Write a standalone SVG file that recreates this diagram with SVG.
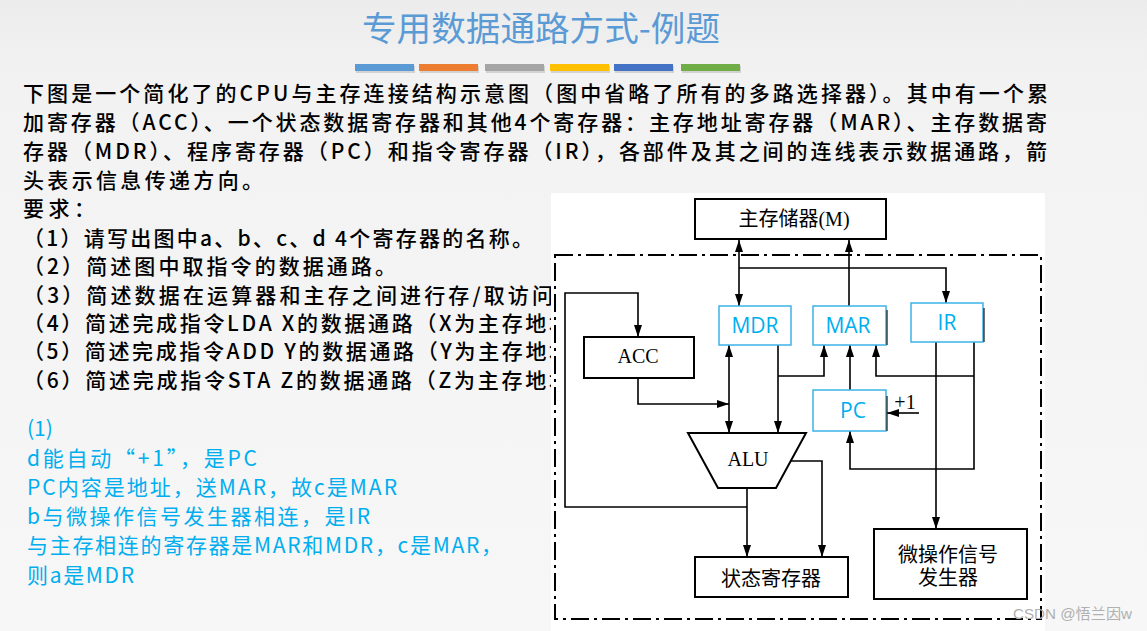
<svg xmlns="http://www.w3.org/2000/svg" width="1147" height="631" viewBox="0 0 1147 631">
<defs>
<linearGradient id="bg" x1="0" y1="0" x2="0" y2="1">
<stop offset="0" stop-color="#ECECEC"/><stop offset="0.12" stop-color="#F2F2F2"/><stop offset="1" stop-color="#F7F7F7"/>
</linearGradient>
<marker id="ah" viewBox="0 0 12 8" refX="12" refY="4" markerWidth="12" markerHeight="8" markerUnits="userSpaceOnUse" orient="auto-start-reverse">
<path d="M0,0 L12,4 L0,8 Z" fill="#000"/>
</marker>
<clipPath id="clipL"><rect x="0" y="0" width="551" height="631"/></clipPath>
</defs>
<style>
.t{font-family:"Noto Sans CJK SC","Liberation Sans",sans-serif;font-size:21px;font-weight:500;fill:#000}
.a{font-family:"Noto Sans CJK SC","Open Sans",sans-serif;font-size:21px;fill:#00AEEF}
.s{font-family:"Liberation Serif","Noto Sans CJK SC",serif;font-size:20px;fill:#000;text-anchor:middle}
.c{font-family:"Open Sans","Noto Sans",sans-serif;font-size:21px;fill:#00AEEF;text-anchor:middle}
.bx{fill:#fff;stroke:#000;stroke-width:2}
.cb{fill:#fff;stroke:#3DB2E6;stroke-width:1.5}
.ln{fill:none;stroke:#000;stroke-width:1.6}
.ar{fill:none;stroke:#000;stroke-width:1.6;marker-end:url(#ah)}
.dd{fill:none;stroke:#000;stroke-width:2;stroke-dasharray:18 5 3 5}
.ed{stroke:#222;stroke-width:1.3}
</style>
<rect x="0" y="0" width="1147" height="631" fill="url(#bg)"/>

<g id="title">
<text x="362" y="41" font-family="'Noto Sans CJK SC',sans-serif" font-size="34" fill="#5B9BD5" textLength="358" lengthAdjust="spacingAndGlyphs">专用数据通路方式-例题</text>
<g fill="#BDBDBD" opacity="0.6">
<rect x="356" y="66" width="59" height="7"/><rect x="420" y="66" width="59" height="7"/><rect x="486" y="66" width="59" height="7"/>
<rect x="551" y="66" width="59" height="7"/><rect x="615" y="66" width="59" height="7"/><rect x="682" y="66" width="59" height="7"/>
</g>
<rect x="355" y="64" width="59" height="7" fill="#5B9BD5"/>
<rect x="419" y="64" width="59" height="7" fill="#ED7D31"/>
<rect x="485" y="64" width="59" height="7" fill="#A5A5A5"/>
<rect x="550" y="64" width="59" height="7" fill="#FFC000"/>
<rect x="614" y="64" width="59" height="7" fill="#4472C4"/>
<rect x="681" y="64" width="59" height="7" fill="#70AD47"/>
</g>

<g id="question" class="t">
<text x="23" y="101" textLength="1025" lengthAdjust="spacing">下图是一个简化了的CPU与主存连接结构示意图（图中省略了所有的多路选择器）。其中有一个累</text>
<text x="23" y="130" textLength="1024" lengthAdjust="spacing">加寄存器（ACC）、一个状态数据寄存器和其他4个寄存器：主存地址寄存器（MAR）、主存数据寄</text>
<text x="23" y="159" textLength="1024" lengthAdjust="spacing">存器（MDR）、程序寄存器（PC）和指令寄存器（IR），各部件及其之间的连线表示数据通路，箭</text>
<text x="23" y="188" textLength="240" lengthAdjust="spacing">头表示信息传递方向。</text>
<text x="23" y="216" textLength="72" lengthAdjust="spacing">要求：</text>
<text x="23" y="246" textLength="510" lengthAdjust="spacing">（1）请写出图中a、b、c、d 4个寄存器的名称。</text>
<text x="23" y="274" textLength="373" lengthAdjust="spacing">（2）简述图中取指令的数据通路。</text>
</g>
<g id="question-cut" class="t" clip-path="url(#clipL)">
<text x="23" y="303" textLength="530" lengthAdjust="spacing">（3）简述数据在运算器和主存之间进行存/取访问</text>
<text x="23" y="331" textLength="547" lengthAdjust="spacing">（4）简述完成指令LDA X的数据通路（X为主存地址</text>
<text x="23" y="359" textLength="547" lengthAdjust="spacing">（5）简述完成指令ADD Y的数据通路（Y为主存地址</text>
<text x="23" y="388" textLength="547" lengthAdjust="spacing">（6）简述完成指令STA Z的数据通路（Z为主存地址</text>
</g>

<g id="answer" class="a">
<text x="27" y="436">(1)</text>
<text x="27" y="466" textLength="230" lengthAdjust="spacing">d能自动“+1”，是PC</text>
<text x="27" y="495" textLength="370" lengthAdjust="spacing">PC内容是地址，送MAR，故c是MAR</text>
<text x="27" y="524" textLength="343" lengthAdjust="spacing">b与微操作信号发生器相连，是IR</text>
<text x="27" y="553" textLength="475" lengthAdjust="spacing">与主存相连的寄存器是MAR和MDR，c是MAR，</text>
<text x="27" y="583" textLength="107" lengthAdjust="spacing">则a是MDR</text>
</g>

<rect id="diagram-bg" x="551" y="193" width="494" height="438" fill="#fff"/>

<g id="cpu-border">
<rect x="555" y="255" width="486" height="364" class="dd"/>
</g>

<g id="connectors">
<line x1="739" y1="240" x2="739" y2="306" class="ln" marker-start="url(#ah)" marker-end="url(#ah)"/>
<polyline points="739,268 946,268 946,303" class="ar"/>
<line x1="849" y1="306" x2="849" y2="240" class="ar"/>
<polyline points="747,507 565,507 565,293 638,293 638,337" class="ar"/>
<line x1="747" y1="488" x2="747" y2="557" class="ar"/>
<polyline points="790,461 822,461 822,557" class="ar"/>
<polyline points="638,378 638,404 729,404" class="ar"/>
<line x1="729" y1="345" x2="729" y2="433" class="ln" marker-start="url(#ah)" marker-end="url(#ah)"/>
<line x1="778" y1="345" x2="778" y2="433" class="ar"/>
<polyline points="778,376 824,376 824,345" class="ar"/>
<line x1="850" y1="390" x2="850" y2="345" class="ar"/>
<polyline points="974,342 974,469 850,469 850,431" class="ar"/>
<polyline points="974,376 876,376 876,345" class="ar"/>
<line x1="936" y1="342" x2="936" y2="529" class="ar"/>
<line x1="919" y1="413" x2="887" y2="413" class="ar"/>
</g>

<g id="memory">
<rect x="695" y="199" width="191" height="40" class="bx"/>
<text x="794" y="226" class="s" font-size="21">主存储器(M)</text>
</g>
<g id="mdr">
<rect x="719" y="306" width="72" height="39" class="cb"/>
<text x="755" y="333" class="c">MDR</text>
</g>
<g id="mar">
<rect x="813" y="306" width="73" height="39" class="cb"/>
<line x1="887" y1="310" x2="887" y2="345" class="ed"/>
<text x="848" y="333" class="c">MAR</text>
</g>
<g id="ir">
<rect x="911" y="303" width="72" height="39" class="cb"/>
<line x1="984" y1="308" x2="984" y2="342" class="ed"/>
<text x="947" y="330" class="c">IR</text>
</g>
<g id="acc">
<rect x="584" y="337" width="110" height="41" class="bx"/>
<text x="638" y="363" class="s">ACC</text>
</g>
<g id="pc">
<rect x="813" y="390" width="73" height="41" class="cb"/>
<line x1="887" y1="396" x2="887" y2="431" class="ed"/>
<text x="853" y="418" class="c">PC</text>
<text x="905" y="409" class="s" font-size="18">+1</text>
</g>
<g id="alu">
<polygon points="688,433 806,433 776,488 718,488" fill="#fff" stroke="#000" stroke-width="2"/>
<text x="748" y="466" class="s">ALU</text>
</g>
<g id="status">
<rect x="695" y="557" width="153" height="40" class="bx"/>
<text x="771" y="586" class="s" font-size="20.5">状态寄存器</text>
</g>
<g id="micro">
<rect x="874" y="529" width="153" height="70" class="bx"/>
<text x="948" y="562" class="s">微操作信号</text>
<text x="948" y="585" class="s">发生器</text>
</g>

<text x="1013" y="619" font-family="'Liberation Sans','Noto Sans CJK SC',sans-serif" font-size="15" fill="#B0B0B0" textLength="119" lengthAdjust="spacingAndGlyphs">CSDN @悟兰因w</text>
</svg>
